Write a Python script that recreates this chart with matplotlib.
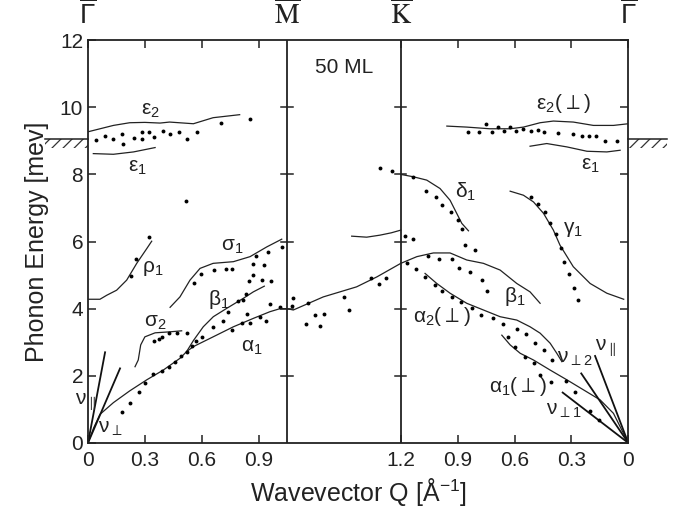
import matplotlib
matplotlib.use('Agg')
import matplotlib.pyplot as plt
from matplotlib.patches import Rectangle
import numpy as np

plt.rcParams['font.family'] = ['Liberation Sans', 'DejaVu Sans']
plt.rcParams['mathtext.fontset'] = 'custom'
plt.rcParams['mathtext.rm'] = 'Liberation Sans'
plt.rcParams['mathtext.default'] = 'regular'
plt.rcParams['hatch.linewidth'] = 0.9

# path coordinate: Gamma(0) -> M(1.05) -> K(1.65) -> Gamma(2.85)
M_pos = 1.05
K_pos = 1.65
G_end = 2.85

# measured points (path coord, energy meV)
dots_s = [0.04, 0.09, 0.134, 0.18, 0.186, 0.243, 0.285, 0.287, 0.322, 0.348, 0.397, 0.433, 0.48, 0.524, 0.577, 0.703, 0.857,
          0.517,
          0.324, 0.252, 0.227,
          0.561, 0.595, 0.667, 0.728, 0.762, 0.885, 0.951, 1.025, 0.872, 0.93, 0.872, 0.85, 0.92, 0.966,
          0.348, 0.375, 0.392, 0.427, 0.468, 0.52,
          0.181, 0.22, 0.27, 0.30, 0.341, 0.392, 0.427, 0.459, 0.49, 0.52, 0.55, 0.57, 0.603, 0.66, 0.711, 0.737,
          0.758, 0.793, 0.816, 0.832, 0.81, 0.855, 0.837, 0.907, 0.94, 0.96, 1.013,
          1.083, 1.075, 1.159, 1.15, 1.198, 1.223, 1.247, 1.353, 1.377, 1.493, 1.537, 1.573, 1.541, 1.606,
          1.673, 1.717,
          2.004, 2.06, 2.10, 2.13, 2.162, 2.195, 2.227, 2.259, 2.294, 2.336, 2.373, 2.408, 2.482, 2.556, 2.606,
          2.641, 2.68, 2.725, 2.79,
          1.713, 1.784, 1.835, 1.87, 1.914, 1.954, 1.975, 1.99, 2.042,
          2.336, 2.376, 2.412, 2.435, 2.47, 2.496, 2.512, 2.535, 2.565, 2.584,
          1.682, 1.729, 1.796, 1.854, 1.922, 1.959, 2.016, 2.077, 2.104,
          1.778, 1.831, 1.87, 1.919, 1.968, 2.025, 2.074, 2.136, 2.188, 2.262, 2.311, 2.359, 2.408, 2.447,
          2.218, 2.253, 2.306, 2.354, 2.385, 2.442, 2.52, 2.57, 2.649, 2.698]
dots_E = [9.02, 9.14, 9.05, 9.2, 8.92, 9.09, 9.25, 9.05, 9.27, 9.12, 9.30, 9.2, 9.27, 9.06, 9.27, 9.53, 9.66,
          7.2,
          6.14, 5.47, 4.98,
          4.75, 5.03, 5.15, 5.18, 5.18, 5.57, 5.69, 5.84, 5.32, 5.30, 5.0, 4.83, 4.85, 4.83,
          3.04, 3.10, 3.15, 3.26, 3.26, 3.26,
          0.91, 1.18, 1.51, 1.78, 2.05, 2.15, 2.27, 2.42, 2.59, 2.70, 2.89, 3.04, 3.16, 3.46, 3.64, 3.89,
          3.36, 4.23, 4.26, 4.45, 3.58, 3.58, 3.84, 3.76, 3.64, 4.14, 4.06,
          4.31, 4.08, 4.18, 3.54, 3.81, 3.49, 3.83, 4.35, 3.96, 4.90, 4.72, 4.92, 8.18, 8.10,
          6.17, 6.09,
          9.25, 9.25, 9.51, 9.25, 9.40, 9.30, 9.41, 9.30, 9.35, 9.30, 9.32, 9.27, 9.24, 9.19, 9.14,
          9.14, 9.14, 8.99, 8.99,
          7.92, 7.50, 7.33, 7.08, 6.88, 6.64, 6.37, 5.91, 5.74,
          7.33, 7.11, 6.87, 6.54, 6.22, 5.81, 5.38, 5.02, 4.62, 4.26,
          5.35, 5.17, 5.57, 5.47, 5.47, 5.20, 5.08, 4.85, 4.53,
          4.95, 4.70, 4.53, 4.35, 4.21, 4.01, 3.81, 3.71, 3.53, 3.39, 3.23, 2.97, 2.77, 2.47,
          3.16, 2.87, 2.57, 2.39, 2.02, 1.81, 1.85, 1.51, 0.95, 0.68]

# calculated branches
eps2_L = ([0, 0.134, 0.22, 0.30, 0.38, 0.43, 0.556, 0.66, 0.80], [9.27, 9.46, 9.54, 9.55, 9.53, 9.56, 9.51, 9.69, 9.78])
eps1_L = ([0.028, 0.134, 0.24, 0.354], [8.62, 8.60, 8.67, 8.80])
rho1 = ([0, 0.063, 0.099, 0.151, 0.204, 0.257, 0.31, 0.336], [4.28, 4.28, 4.40, 4.55, 4.85, 5.35, 5.79, 6.01])
sigma1 = ([0.433, 0.485, 0.538, 0.591, 0.66, 0.767, 0.855, 0.943, 1.022], [4.04, 4.35, 4.85, 5.2, 5.35, 5.40, 5.55, 5.84, 6.07])
sigma2 = ([0.248, 0.265, 0.278, 0.30, 0.354, 0.433, 0.494], [2.27, 2.47, 2.92, 3.16, 3.28, 3.31, 3.34])
acoustic_L = ([0, 0.03, 0.063, 0.134, 0.22, 0.31, 0.397, 0.485, 0.52], [0, 0.45, 0.85, 1.2, 1.55, 1.88, 2.17, 2.52, 2.72])
beta1_L = ([0.52, 0.556, 0.608, 0.661, 0.732, 0.82, 0.872, 0.93], [2.72, 3.05, 3.46, 3.76, 4.01, 4.31, 4.5, 4.67])
alpha1_L = ([0.52, 0.556, 0.66, 0.767, 0.872, 0.96, 1.013, 1.05], [2.72, 2.87, 3.16, 3.46, 3.71, 3.91, 4.0, 4.0])
mk_low = ([1.05, 1.083, 1.241, 1.417, 1.525, 1.65], [4.0, 3.96, 4.35, 4.65, 4.95, 5.35])
mk_high = ([1.391, 1.47, 1.54, 1.60, 1.65], [6.16, 6.13, 6.19, 6.26, 6.34])
delta1 = ([1.65, 1.716, 1.787, 1.857, 1.91, 1.945, 1.972, 2.007], [8.0, 7.93, 7.83, 7.58, 7.23, 6.84, 6.54, 6.32])
gamma1 = ([2.227, 2.297, 2.35, 2.403, 2.455, 2.49, 2.56, 2.649, 2.737, 2.826], [7.50, 7.38, 7.18, 6.84, 6.34, 5.89, 5.25, 4.75, 4.46, 4.28])
beta1_R = ([1.65, 1.735, 1.822, 1.91, 1.998, 2.086, 2.174, 2.262, 2.332, 2.385], [5.35, 5.55, 5.66, 5.66, 5.45, 5.35, 5.15, 4.75, 4.50, 4.16])
alpha2_R = ([1.778, 1.84, 1.91, 1.998, 2.086, 2.174, 2.262, 2.332, 2.385, 2.438, 2.473, 2.5],
            [5.05, 4.75, 4.46, 4.16, 3.96, 3.76, 3.66, 3.46, 3.27, 2.97, 2.67, 2.42])
alpha1_R = ([2.183, 2.227, 2.28, 2.35, 2.438, 2.526, 2.614, 2.702, 2.772, 2.85], [3.21, 2.92, 2.67, 2.47, 2.17, 1.88, 1.58, 1.28, 0.88, 0])
eps2_R = ([1.893, 1.998, 2.12, 2.227, 2.297, 2.385, 2.455, 2.56, 2.666, 2.772, 2.85], [9.44, 9.41, 9.36, 9.36, 9.41, 9.54, 9.59, 9.56, 9.46, 9.46, 9.51])
eps1_R = ([2.332, 2.42, 2.526, 2.632, 2.737, 2.807], [8.84, 8.92, 8.82, 8.69, 8.67, 8.72])
branches = [eps2_L, eps1_L, rho1, sigma1, sigma2, acoustic_L, beta1_L, alpha1_L, mk_low, mk_high,
            delta1, gamma1, beta1_R, alpha2_R, alpha1_R, eps2_R, eps1_R]

# sound lines (end points, from Gamma)
sound_L = [(0.09, 2.7), (0.169, 2.22)]
sound_R = [(2.675, 2.59), (2.602, 2.07), (2.504, 1.50)]

# mode labels
labels = [('ε$_2$', 0.33, 9.9), ('ε$_1$', 0.26, 8.2), ('ρ$_1$', 0.34, 5.2), ('σ$_1$', 0.76, 5.86),
          ('β$_1$', 0.69, 4.26), ('σ$_2$', 0.355, 3.6), ('α$_1$', 0.865, 2.83),
          ('ν$_{\\parallel}$', -0.01, 1.22), ('ν$_{{\\perp}}$', 0.116, 0.44),
          ('ε$_2$(${\\perp}$)', 2.51, 10.1), ('ε$_1$', 2.65, 8.27), ('δ$_1$', 1.99, 7.47), ('γ$_1$', 2.56, 6.37),
          ('β$_1$', 2.25, 4.37), ('α$_2$(${\\perp}$)', 1.866, 3.76), ('ν$_{{\\perp}2}$', 2.57, 2.52),
          ('ν$_{\\parallel}$', 2.73, 2.82), ('α$_1$(${\\perp}$)', 2.27, 1.68), ('ν$_{{\\perp}1}$', 2.51, 0.98)]

xtick_pos = [0, 0.3, 0.6, 0.9, K_pos, G_end - 0.9, G_end - 0.6, G_end - 0.3, G_end]
xtick_lab = ['0', '0.3', '0.6', '0.9', '1.2', '0.9', '0.6', '0.3', '0']
surface_E = 9.05

fig = plt.figure(figsize=(6.77, 5.15), dpi=100)
ax = fig.add_axes([0.130, 0.140, 0.798, 0.782])

for s, e in branches:
    ax.plot(s, e, color='#222222', lw=0.9)
for xe, ye in sound_L:
    ax.plot([0, xe], [0, ye], color='#111111', lw=1.3)
for xe, ye in sound_R:
    ax.plot([G_end, xe], [0, ye], color='#111111', lw=1.3)
ax.plot(dots_s, dots_E, 'o', color='black', ms=2.8, mec='none')

for txt, x, y in labels:
    ax.text(x, y, txt, fontsize=15, ha='center', va='center', color='#222222')

ax.text((M_pos + K_pos) / 2, 11.2, '50 ML', fontsize=15, ha='center', va='center', color='#222222')

# M and K lines with ticks on both sides
for xv in (M_pos, K_pos):
    ax.axvline(xv, color='#222222', lw=1.3)
    for yv in range(2, 12, 2):
        ax.plot([xv - 0.03, xv + 0.03], [yv, yv], color='#222222', lw=1.1)

# bulk band edge marks outside the frame
for x0, w in ((-0.227, 0.227), (G_end, 0.206)):
    ax.add_patch(Rectangle((x0, surface_E - 0.26), w, 0.26, hatch='///', fill=False, lw=0,
                           edgecolor='#333333', clip_on=False))
    ax.plot([x0, x0 + w], [surface_E, surface_E], color='#222222', lw=1.1, clip_on=False)

# symmetry points on top
for xv, lab in ((0, r'$\overline{\Gamma}$'), (M_pos, r'$\overline{\mathrm{M}}$'),
                (K_pos, r'$\overline{\mathrm{K}}$'), (G_end, r'$\overline{\Gamma}$')):
    ax.text(xv, 12.3, lab, fontsize=20, ha='center', va='bottom', math_fontfamily='stix', color='#222222')

ax.set_xlim(0, G_end)
ax.set_ylim(0, 12)
ax.set_xticks(xtick_pos)
ax.set_xticklabels(xtick_lab)
ax.set_yticks(np.arange(0, 13, 2))
ax.tick_params(direction='in', top=True, right=True, length=6, width=1.1, labelsize=15, colors='#222222')
ax.tick_params(axis='x', pad=6)
for sp in ax.spines.values():
    sp.set_linewidth(1.3)
    sp.set_color('#222222')

ax.set_xlabel('Wavevector Q [Å$^{-1}$]', fontsize=18, color='#222222', labelpad=4)
ax.set_ylabel('Phonon Energy [mev]', fontsize=18, color='#222222', labelpad=8)

fig.savefig('out.png', dpi=100)
